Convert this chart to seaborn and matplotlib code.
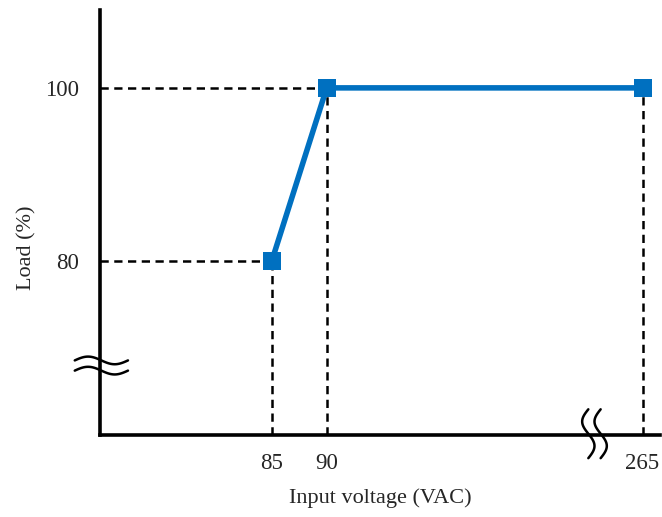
import numpy as np
import matplotlib
matplotlib.use("Agg")
import matplotlib.pyplot as plt
import seaborn as sns
import pandas as pd

# data
voltage = [85, 90, 265]
load = [80, 100, 100]
x_ticks = [85, 90, 265]
y_ticks = [80, 100]

df = pd.DataFrame({"voltage": voltage, "load": load})

sns.set_style("white")
plt.rcParams["font.family"] = ["Liberation Serif", "DejaVu Serif"]

# broken x axis: compress everything above 100 V
K = 0.1133
def fwd(v):
    v = np.asarray(v, dtype=float)
    return np.where(v <= 100, v, 100 + (v - 100) * K)

def inv(p):
    p = np.asarray(p, dtype=float)
    return np.where(p <= 100, p, 100 + (p - 100) / K)

fig = plt.figure(figsize=(6.62, 5.17), dpi=100)
ax = fig.add_axes([0.151, 0.159, 0.846, 0.822])
ax.set_xscale("function", functions=(fwd, inv))

ax.set_xlim(69.4, 279)
ax.set_ylim(60, 109)

# dashed guide lines
dash = (0, (3.3, 2.2))
for v, l in zip(voltage, load):
    ax.plot([v, v], [60, l], ls=dash, color="black", lw=1.8, zorder=1)
for v, l in zip(voltage[:2], load[:2]):
    ax.plot([69.4, v], [l, l], ls=dash, color="black", lw=1.8, zorder=1)

sns.lineplot(data=df, x="voltage", y="load", color="#0070C0", lw=4,
             marker="s", markersize=13, markeredgewidth=0, ax=ax, zorder=3)

ax.set_xticks(x_ticks)
ax.set_xticklabels([str(t) for t in x_ticks])
ax.set_yticks(y_ticks)
ax.minorticks_off()
ax.tick_params(axis="x", length=0, labelsize=16.5, pad=13)
ax.tick_params(axis="y", length=0, labelsize=16.5, pad=15)

for s in ["top", "right"]:
    ax.spines[s].set_visible(False)
for s in ["left", "bottom"]:
    ax.spines[s].set_linewidth(2.6)
    ax.spines[s].set_color("black")

ax.set_xlabel("Input voltage (VAC)", fontsize=16)
ax.set_ylabel("Load (%)", fontsize=16)
ax.xaxis.set_label_coords(0.5, -0.125)
ax.yaxis.set_label_coords(-0.113, 0.44)

# axis break marks (axes fraction coordinates)
t = np.linspace(0, 1, 50)
wave = 0.009 * np.sin(2 * np.pi * t)
for dy in [0.0, -0.024]:
    ax.plot(-0.045 + t * 0.095, 0.175 + dy + wave, color="black", lw=1.8,
            transform=ax.transAxes, clip_on=False)
wx = 0.011 * np.sin(2 * np.pi * t)
for dx in [0.0, 0.022]:
    ax.plot(0.872 + dx + wx, -0.055 + t * 0.115, color="black", lw=1.8,
            transform=ax.transAxes, clip_on=False)

ax.set_facecolor("white")
fig.savefig("out.png", dpi=100, facecolor="white")
